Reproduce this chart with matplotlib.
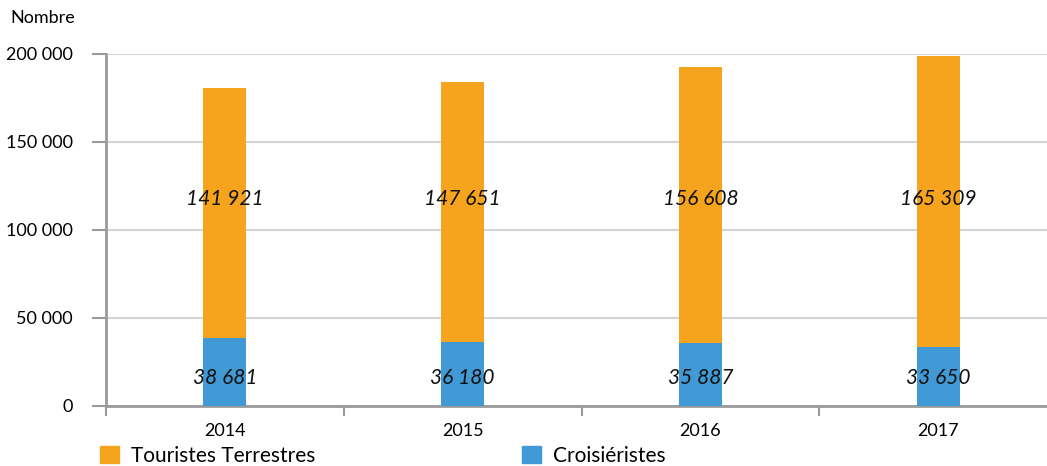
import matplotlib
matplotlib.use("Agg")
import matplotlib.pyplot as plt
from matplotlib.patches import Patch
from matplotlib.ticker import FixedLocator, NullFormatter

years = ["2014", "2015", "2016", "2017"]
croisieristes = [38681, 36180, 35887, 33650]
terrestres = [141921, 147651, 156608, 165309]
croisieristes_lbl = ["38 681", "36 180", "35 887", "33 650"]
terrestres_lbl = ["141 921", "147 651", "156 608", "165 309"]
yticks = [0, 50000, 100000, 150000, 200000]
ytick_lbl = ["0", "50 000", "100 000", "150 000", "200 000"]

ORANGE = "#F6A41E"
BLUE = "#419AD5"
GRID = "#D4D4D4"
SPINE = "#9A9A9C"
FONT = ["Lato", "DejaVu Sans"]
plt.rcParams['font.family'] = FONT

W, H = 1047, 466
fig = plt.figure(figsize=(W / 100, H / 100), dpi=100)
ax = fig.add_axes([106 / W, 1 - 406 / H, 951 / W, 352 / H])

x = list(range(len(years)))
bw = 0.18
ax.bar(x, croisieristes, width=bw, color=BLUE, zorder=3)
ax.bar(x, terrestres, width=bw, bottom=croisieristes, color=ORANGE, zorder=3)

for i in x:
    ax.text(i, 117500, terrestres_lbl[i], ha="center", va="center",
            fontsize=15, style="italic", color="#111111", zorder=4)
    ax.text(i, 16000, croisieristes_lbl[i], ha="center", va="center",
            fontsize=15, style="italic", color="#111111", zorder=4)

ax.set_xlim(-0.5, 3.5)
ax.set_ylim(0, 200000)
ax.set_yticks(yticks)
ax.set_yticklabels(ytick_lbl, fontsize=13)
ax.yaxis.grid(True, color=GRID, linewidth=1.5, zorder=0)
ax.tick_params(axis="y", length=10, width=1.5, color=SPINE, pad=14)

ax.xaxis.set_major_locator(FixedLocator([-0.5, 0.5, 1.5, 2.5, 3.5]))
ax.xaxis.set_major_formatter(NullFormatter())
ax.xaxis.set_minor_locator(FixedLocator(x))
ax.set_xticklabels(years, minor=True, fontsize=13)
ax.tick_params(axis="x", which="major", length=7, width=1.5, color=SPINE)
ax.tick_params(axis="x", which="minor", length=0, pad=12)

for s in ["top", "right"]:
    ax.spines[s].set_visible(False)
for s in ["left", "bottom"]:
    ax.spines[s].set_color(SPINE)
    ax.spines[s].set_linewidth(2)

fig.text(10 / W, 1 - 18 / H, "Nombre", fontsize=13, va="center", ha="left")

fig.legend(handles=[Patch(color=ORANGE, label="Touristes Terrestres")],
           loc="center left", bbox_to_anchor=(100 / W, 1 - 456 / H),
           frameon=False, fontsize=15, handlelength=0.9, handleheight=0.9,
           handletextpad=0.6, borderpad=0, borderaxespad=0)
fig.legend(handles=[Patch(color=BLUE, label="Croisiéristes")],
           loc="center left", bbox_to_anchor=(522 / W, 1 - 456 / H),
           frameon=False, fontsize=15, handlelength=0.9, handleheight=0.9,
           handletextpad=0.6, borderpad=0, borderaxespad=0)

fig.savefig("out.png", dpi=100)
